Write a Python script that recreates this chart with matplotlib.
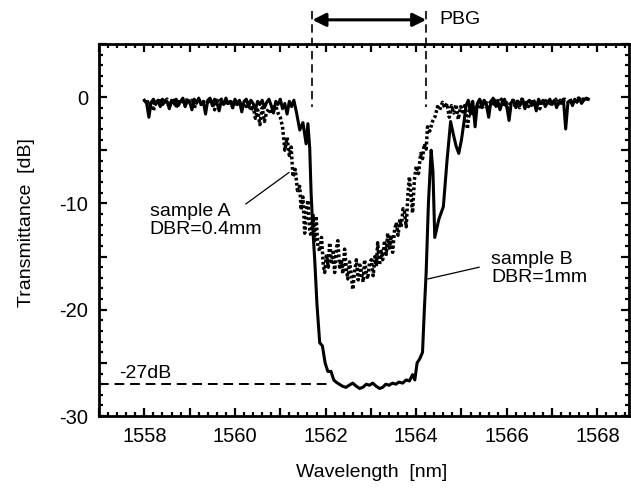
import numpy as np
import matplotlib
matplotlib.use("Agg")
import matplotlib.pyplot as plt
from matplotlib.ticker import MultipleLocator, FuncFormatter

plt.rcParams['font.family'] = ['Liberation Sans', 'DejaVu Sans']

# sample B (DBR=1mm), solid line
wl_b_left = np.round(np.arange(1558.0, 1561.31, 0.05), 2)
tr_b_left = [-0.3, -0.6, -1.9, -0.5, -0.2, -0.7, -0.3, -0.9, -0.2, -0.5,
             -0.4, -1.1, -0.3, -0.6, -0.2, -0.8, -0.4, -0.1, -0.9, -0.3,
             -0.5, -1.2, -0.2, -0.6, -0.1, -0.7, -0.4, -1.6, -0.3, -0.1,
             -0.8, -0.2, -0.5, -1.3, -0.3, -0.7, -0.1, -0.6, -0.4, -1.0,
             -0.2, -0.6, -0.3, -1.4, -0.4, -0.2, -0.9, -0.3, -0.6, -1.2,
             -0.4, -0.7, -0.3, -1.0, -0.5, -0.2, -0.8, -1.5, -0.4, -0.7,
             -0.2, -1.1, -0.6, -1.6, -0.4, -0.9, -0.3]
wl_b_gap = [1561.36, 1561.43, 1561.50, 1561.57, 1561.61, 1561.65, 1561.68, 1561.72,
            1561.76, 1561.81, 1561.87, 1561.93, 1561.99, 1562.05, 1562.12, 1562.18,
            1562.23, 1562.30, 1562.38, 1562.45, 1562.52, 1562.60, 1562.68, 1562.75,
            1562.82, 1562.90, 1562.97, 1563.04, 1563.12, 1563.19, 1563.26, 1563.33,
            1563.40, 1563.48, 1563.55, 1563.62, 1563.70, 1563.78, 1563.85, 1563.92,
            1563.97, 1564.02, 1564.08, 1564.14, 1564.18, 1564.22, 1564.27, 1564.33,
            1564.37, 1564.41, 1564.50, 1564.60, 1564.68, 1564.76, 1564.82, 1564.88,
            1564.94, 1565.00, 1565.06, 1565.10]
tr_b_gap = [-1.5, -3.1, -2.4, -4.4, -2.5, -4.8, -9.0, -12.5,
            -15.3, -19.5, -23.1, -23.4, -25.0, -25.8, -25.8, -26.6,
            -26.8, -27.0, -27.2, -27.3, -27.1, -26.9, -27.2, -27.4,
            -27.3, -27.0, -27.1, -26.9, -27.2, -27.4, -27.3, -27.0,
            -27.1, -26.9, -27.0, -26.8, -26.9, -26.6, -26.7, -26.1,
            -26.6, -25.0, -24.6, -24.0, -20.0, -16.5, -10.0, -5.0,
            -7.0, -13.2, -11.5, -10.3, -6.0, -2.3, -3.5, -4.6,
            -5.3, -4.0, -2.2, -0.8]
wl_b_right = np.round(np.arange(1565.15, 1567.81, 0.05), 2)
tr_b_right = [-0.3, -1.6, -0.4, -2.8, -0.6, -0.2, -1.0, -0.3, -0.7, -1.9,
              -0.4, -0.1, -0.8, -0.3, -1.2, -0.5, -0.2, -0.9, -2.2, -0.5,
              -0.3, -1.0, -0.4, -0.7, -0.2, -1.1, -0.5, -0.3, -0.8, -0.4,
              -1.3, -0.2, -0.6, -0.3, -0.9, -0.5, -0.2, -0.7, -0.3, -1.0,
              -0.4, -0.6, -0.2, -3.0, -0.5, -0.3, -0.8, -0.2, -0.5, -0.1,
              -0.6, -0.3, -0.1, -0.2]

# sample A (DBR=0.4mm), dotted line
wl_a_left = np.round(np.arange(1558.0, 1560.31, 0.05), 2)
tr_a_left = [-0.5, -0.2, -0.8, -0.4, -1.3, -0.3, -0.6, -0.1, -0.7, -0.4,
             -0.2, -0.9, -0.5, -0.3, -1.0, -0.2, -0.6, -0.4, -0.8, -0.1,
             -0.5, -0.3, -1.1, -0.4, -0.2, -0.7, -0.3, -0.9, -0.5, -0.2,
             -0.6, -1.2, -0.3, -0.5, -0.2, -0.8, -0.4, -0.6, -0.3, -1.0,
             -0.5, -0.7, -0.4, -1.1, -0.6, -0.9, -0.5]
wl_a_gap = [1560.35, 1560.40, 1560.45, 1560.50, 1560.55, 1560.60, 1560.65, 1560.70,
            1560.75, 1560.80, 1560.85, 1560.90, 1560.95, 1561.00, 1561.05, 1561.10,
            1561.15, 1561.20, 1561.24, 1561.28, 1561.33, 1561.38, 1561.43, 1561.46,
            1561.50, 1561.54, 1561.58, 1561.61, 1561.65, 1561.68, 1561.72, 1561.76,
            1561.79, 1561.83, 1561.87, 1561.91, 1561.95, 1561.98, 1562.02, 1562.06,
            1562.09, 1562.13, 1562.17, 1562.20, 1562.24, 1562.27, 1562.31, 1562.35,
            1562.38, 1562.42, 1562.46, 1562.49, 1562.53, 1562.57, 1562.60, 1562.64,
            1562.68, 1562.72, 1562.76, 1562.79, 1562.83, 1562.86, 1562.90, 1562.93,
            1562.97, 1563.01, 1563.05, 1563.09, 1563.12, 1563.15, 1563.19, 1563.23,
            1563.26, 1563.30, 1563.34, 1563.37, 1563.41, 1563.45, 1563.48, 1563.52,
            1563.56, 1563.60, 1563.64, 1563.67, 1563.71, 1563.74, 1563.78, 1563.82,
            1563.85, 1563.89, 1563.92, 1563.96, 1564.00, 1564.05, 1564.10, 1564.14,
            1564.18, 1564.22, 1564.25, 1564.30, 1564.36, 1564.42, 1564.47, 1564.52,
            1564.58]
tr_a_gap = [-1.3, -0.8, -2.0, -1.2, -2.6, -1.0, -2.3, -1.4,
            -1.1, -1.6, -1.0, -0.8, -1.5, -1.9, -2.8, -5.0,
            -3.8, -5.5, -4.7, -7.5, -6.8, -8.8, -8.4, -10.6,
            -9.4, -12.8, -10.5, -9.7, -12.5, -13.1, -11.0, -13.5,
            -11.2, -14.0, -14.5, -13.2, -15.8, -16.5, -14.8, -16.0,
            -13.7, -15.5, -14.6, -16.5, -14.2, -13.5, -16.0, -15.3,
            -16.6, -14.3, -16.2, -17.1, -15.5, -16.8, -18.1, -16.4,
            -15.3, -17.2, -15.8, -16.5, -17.4, -15.3, -16.6, -17.1,
            -15.6, -15.3, -16.8, -15.0, -15.9, -13.7, -15.8, -14.5,
            -15.3, -13.5, -14.8, -12.8, -14.2, -13.0, -14.6, -12.6,
            -11.8, -13.0, -11.5, -12.2, -10.5, -10.8, -12.2, -9.0,
            -7.5, -9.5, -10.9, -7.8, -6.5, -7.2, -5.3, -5.8,
            -4.4, -4.9, -2.8, -3.2, -2.3, -1.8, -0.9, -1.2,
            -0.5]
wl_a_right = np.round(np.arange(1564.63, 1567.84, 0.05), 2)
tr_a_right = [-1.0, -0.6, -1.9, -0.8, -1.5, -0.7, -2.1, -0.9, -1.4, -0.6,
              -3.0, -1.2, -0.5, -1.8, -0.7, -1.1, -0.4, -0.9, -0.3, -1.2,
              -0.5, -0.8, -0.3, -1.0, -0.6, -0.2, -0.9, -0.4, -1.3, -0.5,
              -0.3, -0.8, -0.4, -1.0, -0.2, -0.6, -0.3, -0.9, -0.5, -0.2,
              -0.7, -0.4, -1.1, -0.3, -0.6, -0.2, -0.8, -0.4, -0.5, -0.2,
              -0.7, -0.3, -0.5, -0.2, -0.4, -0.6, -0.3, -0.2, -0.4, -0.1,
              -0.3, -0.2, -0.1, -0.2, -0.1]

pbg_edges = [1561.71, 1564.22]
floor_db = -27.0

wl_a = np.concatenate([wl_a_left, wl_a_gap, wl_a_right[:len(tr_a_right)]])
tr_a = np.concatenate([tr_a_left, tr_a_gap, tr_a_right])[:len(wl_a)]
wl_b = np.concatenate([wl_b_left, wl_b_gap, wl_b_right[:len(tr_b_right)]])
tr_b = np.concatenate([tr_b_left, tr_b_gap, tr_b_right])[:len(wl_b)]

fig = plt.figure(figsize=(6.31, 4.93), dpi=100)
ax = fig.add_axes([0.157, 0.156, 0.840, 0.755])

ax.plot(wl_a, tr_a, color='black', lw=2.5, linestyle=(0, (0.8, 0.7)))
ax.plot(wl_b, tr_b, color='black', lw=2.2)

# -27dB floor line
ax.plot([1557.0, 1562.1], [floor_db, floor_db], color='black', lw=1.4,
        linestyle=(0, (5, 3)))
ax.text(1557.44, -26.0, '-27dB', fontsize=14, va='center', ha='left')

# PBG markers
for x in pbg_edges:
    ax.plot([x, x], [8.1, -0.9], color='black', lw=1.2, linestyle=(0, (5, 3)),
            clip_on=False)
ax.annotate('', xy=(pbg_edges[0], 7.26), xytext=(pbg_edges[1], 7.26),
            arrowprops=dict(arrowstyle='<|-|>', color='black', lw=2.2,
                            mutation_scale=20, shrinkA=0, shrinkB=0),
            annotation_clip=False)
ax.text(1564.51, 7.26, 'PBG', fontsize=14, va='center', ha='left', clip_on=False)

# sample labels
ax.text(1558.12, -11.6, 'sample A\nDBR=0.4mm', fontsize=14, va='center',
        ha='left', linespacing=1.1)
ax.plot([1560.24, 1561.19], [-10.05, -7.1], color='black', lw=0.9)
ax.text(1565.66, -16.1, 'sample B\nDBR=1mm', fontsize=14, va='center',
        ha='left', linespacing=1.1)
ax.plot([1565.39, 1564.26], [-16.0, -17.1], color='black', lw=0.9)

ax.set_xlim(1557.0, 1568.7)
ax.set_ylim(-30, 5)

ax.xaxis.set_major_locator(MultipleLocator(1))
ax.xaxis.set_minor_locator(MultipleLocator(0.2))
ax.xaxis.set_major_formatter(FuncFormatter(
    lambda v, p: '%d' % round(v) if round(v) % 2 == 0 else ''))
ax.yaxis.set_major_locator(MultipleLocator(5))
ax.yaxis.set_minor_locator(MultipleLocator(1))
ax.yaxis.set_major_formatter(FuncFormatter(
    lambda v, p: '%d' % round(v) if round(v) % 10 == 0 else ''))

ax.tick_params(which='both', direction='in', top=True, right=True, width=1.6,
               labelsize=14.5)
ax.tick_params(which='major', length=6)
ax.tick_params(which='minor', length=3)
ax.tick_params(axis='x', pad=8)
ax.tick_params(axis='y', pad=8)
for s in ax.spines.values():
    s.set_linewidth(2.0)

ax.set_xlabel('Wavelength  [nm]', fontsize=14)
ax.set_ylabel('Transmittance  [dB]', fontsize=14)
ax.xaxis.set_label_coords(0.515, -0.13)
ax.yaxis.set_label_coords(-0.12, 0.52)

fig.savefig('out.png', dpi=100)
